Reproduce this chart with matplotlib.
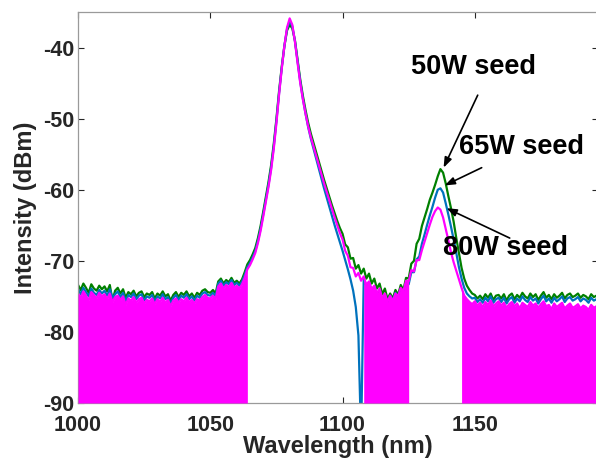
import numpy as np
import matplotlib
matplotlib.use("Agg")
import matplotlib.pyplot as plt

# Wavelength samples (nm), one per nm
wavelength = np.arange(1000, 1197)

# Measured output spectra (dBm) for the three seed powers
seed_50w = [
    -73.4, -74.1, -73.2, -73.8, -74.5, -73.3, -73.9, -74.2, -73.5, -74.0,
    -73.6, -74.3, -73.4, -75.6, -74.2, -73.8, -74.6, -74.0, -75.2, -74.4,
    -74.7, -74.2, -75.0, -74.5, -74.3, -75.1, -74.6, -74.8, -74.4, -75.3,
    -74.6, -74.9, -74.3, -75.0, -74.7, -75.6, -74.8, -74.4, -75.1, -74.5,
    -74.8, -74.3, -75.0, -74.6, -75.2, -74.5, -74.8, -74.2, -74.0, -74.4,
    -74.5, -74.1, -74.6, -72.9, -72.5, -73.2, -72.7, -73.0, -72.4, -73.1,
    -72.8, -73.2, -72.6, -71.6, -70.5, -69.9, -69.1, -68.2, -66.8, -65.1,
    -63.1, -61.0, -58.9, -56.5, -53.5, -50.0, -46.1, -42.7, -39.8, -37.6,
    -36.8, -37.3, -39.0, -41.8, -44.5, -46.8, -48.8, -50.6, -52.1, -53.4,
    -54.7, -56.0, -57.3, -58.6, -59.8, -61.0, -62.2, -63.3, -64.4, -65.4,
    -66.2, -67.7, -68.1, -69.7, -69.6, -71.1, -70.6, -71.8, -71.1, -72.5,
    -71.8, -73.2, -72.5, -73.9, -73.2, -74.7, -73.9, -75.4, -74.6, -75.3,
    -74.1, -74.8, -73.4, -74.1, -72.4, -72.5, -70.4, -70.0, -67.6, -66.9,
    -65.1, -63.9, -62.7, -61.4, -60.4, -59.3, -58.1, -57.1, -57.6, -59.1,
    -60.9, -62.6, -64.5, -66.8, -68.9, -71.0, -72.5, -73.5, -74.1, -74.6,
    -74.8, -75.3, -74.9, -75.4, -74.7, -75.2, -74.6, -75.5, -74.9, -74.8,
    -75.3, -74.7, -75.6, -74.9, -74.6, -75.4, -74.8, -75.2, -74.5, -75.0,
    -75.3, -74.6, -75.1, -74.7, -75.5, -74.9, -74.4, -75.2, -74.8, -75.4,
    -74.7, -75.2, -74.9, -74.5, -75.3, -74.8, -74.6, -75.1, -74.9, -74.6,
    -75.2, -74.8, -75.0, -75.4, -74.7, -75.1, -74.9,
]

seed_65w = [
    -74.0, -74.7, -73.8, -74.4, -75.0, -73.9, -74.5, -74.8, -74.1, -74.6,
    -74.2, -74.9, -74.0, -75.2, -74.7, -74.3, -75.1, -74.5, -75.7, -74.8,
    -75.1, -74.6, -75.4, -74.9, -74.7, -75.6, -75.0, -75.2, -74.8, -75.7,
    -75.0, -75.3, -74.7, -75.4, -75.1, -76.0, -75.2, -74.8, -75.5, -74.9,
    -75.2, -74.7, -75.4, -75.0, -75.6, -74.9, -75.2, -74.6, -74.4, -74.8,
    -74.9, -74.5, -75.0, -73.2, -72.8, -73.5, -73.0, -73.3, -72.7, -73.4,
    -73.1, -73.5, -72.9, -72.0, -70.9, -70.3, -69.5, -68.6, -67.2, -65.5,
    -63.5, -61.4, -59.3, -56.9, -53.9, -50.3, -46.4, -42.9, -39.8, -37.4,
    -36.3, -37.0, -39.1, -42.0, -44.8, -47.2, -49.3, -51.2, -52.8, -54.2,
    -55.6, -57.0, -58.4, -59.8, -61.1, -62.4, -63.7, -65.0, -66.2, -67.4,
    -68.6, -69.9, -71.2, -72.6, -74.2, -76.5, -80.5, -95.0, -72.6, -73.5,
    -73.0, -74.2, -73.6, -74.8, -74.1, -75.4, -74.7, -75.9, -74.9, -75.6,
    -74.5, -75.1, -73.9, -74.5, -73.1, -73.3, -71.6, -71.6, -69.8, -69.4,
    -67.6, -66.3, -64.9, -63.6, -62.4, -61.1, -60.0, -59.8, -60.4, -61.9,
    -63.5, -65.2, -67.0, -68.9, -70.9, -72.5, -73.8, -74.6, -75.0, -75.3,
    -75.2, -75.8, -75.4, -75.9, -75.2, -75.7, -75.0, -75.9, -75.4, -75.2,
    -75.8, -75.2, -76.0, -75.4, -75.1, -75.9, -75.3, -75.7, -75.0, -75.5,
    -75.8, -75.1, -75.6, -75.3, -76.0, -75.4, -74.9, -75.7, -75.3, -75.9,
    -75.2, -75.7, -75.4, -75.0, -75.8, -75.3, -75.1, -75.6, -75.4, -75.1,
    -75.7, -75.3, -75.5, -75.9, -75.2, -75.6, -75.4,
]

seed_80w = [
    -74.6, -75.2, -74.3, -74.9, -75.6, -74.4, -74.8, -75.3, -74.5, -75.0,
    -74.7, -75.4, -74.6, -75.8, -75.1, -74.9, -75.5, -75.0, -76.2, -75.3,
    -75.6, -75.1, -75.9, -75.4, -75.2, -76.0, -75.5, -75.7, -75.3, -76.1,
    -75.4, -75.8, -75.2, -75.9, -75.5, -76.4, -75.6, -75.3, -75.9, -75.4,
    -75.7, -75.2, -75.8, -75.5, -76.0, -75.4, -75.6, -75.1, -74.8, -75.2,
    -75.3, -74.9, -75.4, -73.6, -73.2, -73.9, -73.4, -73.7, -73.1, -73.8,
    -73.5, -73.9, -73.3, -72.4, -71.2, -70.6, -69.8, -68.9, -67.5, -65.8,
    -63.8, -61.7, -59.6, -57.2, -54.2, -50.6, -46.6, -43.0, -39.8, -37.2,
    -35.9, -36.8, -39.2, -42.2, -45.0, -47.3, -49.3, -51.1, -52.6, -53.9,
    -55.2, -56.5, -57.8, -59.1, -60.3, -61.5, -62.7, -63.9, -65.0, -66.1,
    -67.0, -68.6, -69.3, -70.9, -71.0, -72.2, -71.7, -72.8, -72.2, -73.4,
    -72.9, -74.0, -73.5, -74.6, -73.9, -75.3, -74.6, -75.8, -74.9, -75.7,
    -74.6, -75.0, -73.8, -74.3, -72.8, -72.9, -71.3, -71.5, -69.9, -69.9,
    -68.5, -67.3, -66.1, -64.9, -63.8, -63.0, -62.5, -62.8, -63.9, -65.5,
    -67.1, -68.8, -70.2, -71.4, -72.6, -73.8, -74.9, -75.4, -75.8, -76.1,
    -75.7, -76.3, -75.9, -76.5, -75.8, -76.2, -75.6, -76.4, -76.0, -75.7,
    -76.3, -75.9, -76.6, -76.1, -75.8, -76.4, -76.0, -76.7, -75.9, -76.2,
    -76.5, -75.8, -76.3, -76.0, -76.6, -76.1, -75.7, -76.4, -76.2, -76.8,
    -76.0, -76.5, -76.2, -75.9, -76.7, -76.3, -76.0, -76.6, -76.4, -76.1,
    -76.7, -76.3, -76.5, -76.9, -76.2, -76.6, -76.4,
]

# Wavelength bands where the 80 W trace's noise reaches the floor
noise_bands = [(1000, 1064), (1108, 1125), (1145, 1196)]

labels = ["50W seed", "65W seed", "80W seed"]
colors = ["#008000", "#0072BD", "#FF00FF"]

plt.rcParams["font.family"] = ["Liberation Sans", "DejaVu Sans"]
plt.rcParams["font.weight"] = "bold"
plt.rcParams["axes.unicode_minus"] = False

fig = plt.figure(figsize=(5.96, 4.63), dpi=100)
ax = fig.add_axes([0.131, 0.1296, 0.872, 0.8445])

wl = np.asarray(wavelength, dtype=float)
floor = -90.0
for series, color in zip([seed_50w, seed_65w, seed_80w], colors):
    ax.plot(wl, series, color=color, lw=1.6, zorder=2)

m = np.asarray(seed_80w)
for lo, hi in noise_bands:
    mask = (wl >= lo) & (wl <= hi)
    ax.fill_between(wl[mask], m[mask], floor, color=colors[2], lw=0, zorder=3)

ax.set_xlim(1000, 1196.5)
ax.set_ylim(-90, -35)
ax.set_xticks([1000, 1050, 1100, 1150])
ax.set_yticks([-90, -80, -70, -60, -50, -40])

ax.tick_params(direction="in", top=True, right=True, length=4,
               labelsize=15.5, colors="#262626", width=0.8)
ax.tick_params(axis="x", pad=9)
ax.tick_params(axis="y", pad=3)
for lab in ax.get_xticklabels() + ax.get_yticklabels():
    lab.set_fontweight("bold")
for s in ax.spines.values():
    s.set_color("#9a9a9a")
    s.set_linewidth(0.9)

ax.set_xlabel("Wavelength (nm)", fontsize=17, fontweight="bold",
              color="#262626", labelpad=-1)
ax.set_ylabel("Intensity (dBm)", fontsize=17, fontweight="bold",
              color="#262626", labelpad=4)

# Annotations pointing at each seed's second peak
arrow_kw = dict(arrowstyle="-|>,head_length=0.6,head_width=0.22",
                color="black", lw=1.2, shrinkA=0, shrinkB=0)
ax.annotate("", xy=(1138.2, -56.9), xytext=(1151.1, -46.7), arrowprops=arrow_kw, zorder=5)
ax.annotate("", xy=(1138.6, -59.4), xytext=(1152.6, -56.9), arrowprops=arrow_kw, zorder=5)
ax.annotate("", xy=(1139.3, -62.6), xytext=(1163.2, -66.8), arrowprops=arrow_kw, zorder=5)

text_kw = dict(fontsize=19.5, fontweight="bold", color="black",
               ha="center", va="center", zorder=6)
ax.text(1149.6, -42.8, labels[0], **text_kw)
ax.text(1167.8, -54.0, labels[1], **text_kw)
ax.text(1161.7, -68.2, labels[2], **text_kw)

fig.savefig("out.png", dpi=100)
